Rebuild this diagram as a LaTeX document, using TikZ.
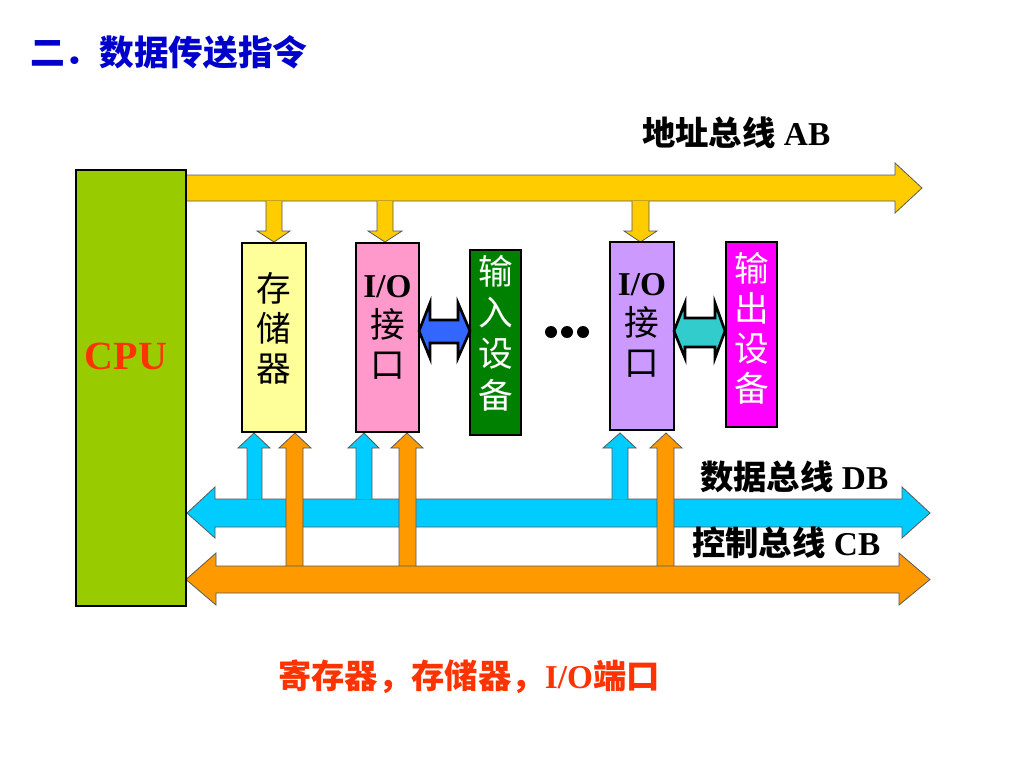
\documentclass[tikz,border=0pt]{standalone}
\usepackage{fontspec}
\setmainfont{Liberation Serif}
\newfontfamily\cjk{Noto Sans CJK SC}
\definecolor{cpugreen}{HTML}{99CC00}
\definecolor{abyellow}{HTML}{FFCC00}
\definecolor{memyellow}{HTML}{FFFF99}
\definecolor{iopink}{HTML}{FF99CC}
\definecolor{indgreen}{HTML}{008000}
\definecolor{arrblue}{HTML}{3366FF}
\definecolor{iopurple}{HTML}{CC99FF}
\definecolor{arrteal}{HTML}{33CCCC}
\definecolor{outmag}{HTML}{FF00FF}
\definecolor{dbcyan}{HTML}{00CCFF}
\definecolor{cborange}{HTML}{FF9900}
\definecolor{titleblue}{HTML}{0000CC}
\definecolor{notered}{HTML}{FF3300}
\begin{document}
\begin{tikzpicture}[x=0.75pt,y=-0.75pt,
  busline/.style={draw=black!65, line width=0.6pt},
  box/.style={draw=black, line width=2.2pt, inner sep=0pt},
  dblarr/.style={draw=black, line width=2pt, line join=miter},
  vtext/.style={align=center, inner sep=0pt, font=\fontsize{26}{30}\selectfont},
  lab/.style={anchor=west, inner sep=0pt, font=\fontsize{25}{30}\selectfont\bfseries}]
\useasboundingbox (0,0) rectangle (1024,768);
\fill[white] (0,0) rectangle (1024,768);

% address bus
\filldraw[busline, fill=abyellow] (184,175) -- (895,175) -- (895,163) -- (922,188) -- (895,213) -- (895,201) -- (184,201) -- cycle;
% down arrows from address bus
\filldraw[busline, fill=abyellow] (266,201) -- (266,231) -- (257,231) -- (274,242) -- (290,231) -- (282,231) -- (282,201);
\filldraw[busline, fill=abyellow] (377,201) -- (377,231) -- (368,231) -- (385,242) -- (402,231) -- (393,231) -- (393,201);
\filldraw[busline, fill=abyellow] (632,201) -- (632,231) -- (624,231) -- (640.5,242) -- (657,231) -- (649,231) -- (649,201);

% data bus
\filldraw[busline, fill=dbcyan] (187,513) -- (215,487) -- (215,499) -- (902,499) -- (902,487) -- (930,513) -- (902,538) -- (902,527) -- (215,527) -- (215,538) -- cycle;
% cyan up arrows
\filldraw[busline, fill=dbcyan] (247,499) -- (247,448) -- (238,448) -- (254,433) -- (270,448) -- (262,448) -- (262,499);
\filldraw[busline, fill=dbcyan] (356,499) -- (356,448) -- (348,448) -- (364,433) -- (379,448) -- (372,448) -- (372,499);
\filldraw[busline, fill=dbcyan] (612,499) -- (612,448) -- (603,448) -- (620,433) -- (636,448) -- (628,448) -- (628,499);
% orange up arrows
\filldraw[busline, fill=cborange] (286,566) -- (286,448) -- (279,448) -- (295,433) -- (311,448) -- (303,448) -- (303,566);
\filldraw[busline, fill=cborange] (399,566) -- (399,448) -- (391,448) -- (407,433) -- (423,448) -- (416,448) -- (416,566);
\filldraw[busline, fill=cborange] (657,566) -- (657,448) -- (650,448) -- (666,433) -- (682,448) -- (674,448) -- (674,566);
% control bus
\filldraw[busline, fill=cborange] (186,579.5) -- (216,553) -- (216,566) -- (899,566) -- (899,553) -- (930,579.5) -- (899,605) -- (899,593) -- (216,593) -- (216,605) -- cycle;

% boxes
\node[box, line width=1.8pt, fill=cpugreen, minimum width=82.5pt, minimum height=327pt] (cpu) at (131,388) {};
\node[box, fill=memyellow, minimum width=48pt, minimum height=141.75pt] (mem) at (274,337.5) {};
\node[box, fill=iopink, minimum width=47.25pt, minimum height=141.75pt] (io1) at (387.5,337.5) {};
\node[box, fill=indgreen, minimum width=38.25pt, minimum height=138.75pt] (inp) at (495.5,342.5) {};
\node[box, fill=iopurple, minimum width=48pt, minimum height=141pt] (io2) at (642,336) {};
\node[box, fill=outmag, minimum width=38.25pt, minimum height=138.75pt] (outp) at (751.5,334.5) {};

% double arrows
\filldraw[dblarr, fill=arrblue] (419,331) -- (430,303) -- (430,320) -- (458,320) -- (458,303) -- (470,331) -- (458,358) -- (458,343) -- (430,343) -- (430,358) -- cycle;
\filldraw[dblarr, fill=arrteal] (674,331) -- (685,303) -- (685,318) -- (715,318) -- (715,303) -- (725,331) -- (715,358) -- (715,347) -- (685,347) -- (685,358) -- cycle;

% dots
\fill[black] (551,332) circle (6) (567,332) circle (6) (583,332) circle (6);

% texts
\node[anchor=west, inner sep=0pt, text=titleblue, font=\cjk\bfseries\fontsize{26}{30}\selectfont] (title) at (30,52) {二．数据传送指令};
\node[font=\bfseries\fontsize{30}{30}\selectfont, text=notered, inner sep=0pt] (cputext) at (126,356) {CPU};
\node[vtext] (memt) at (274,328) {\cjk 存\\\cjk 储\\\cjk 器};
\node[vtext] (io1t) at (387.5,327) {{\bfseries\fontsize{25}{30}\selectfont I/O}\\\cjk 接\\\cjk 口};
\node[vtext, text=white, font=\fontsize{26}{31}\selectfont] (inpt) at (496,333) {\cjk 输\\\cjk 入\\\cjk 设\\\cjk 备};
\node[vtext] (io2t) at (642,325) {{\bfseries\fontsize{25}{30}\selectfont I/O}\\\cjk 接\\\cjk 口};
\node[vtext, text=white, font=\fontsize{26}{30}\selectfont] (outpt) at (751.5,328) {\cjk 输\\\cjk 出\\\cjk 设\\\cjk 备};
\node[lab] (ablab) at (642,133) {{\cjk 地址总线} AB};
\node[lab] (dblab) at (700,477) {{\cjk 数据总线} DB};
\node[lab] (cblab) at (692,543) {{\cjk 控制总线} CB};
\node[lab, text=notered] (note) at (278,677) {{\cjk 寄存器，存储器，}I/O{\cjk 端口}};
\end{tikzpicture}
\end{document}
